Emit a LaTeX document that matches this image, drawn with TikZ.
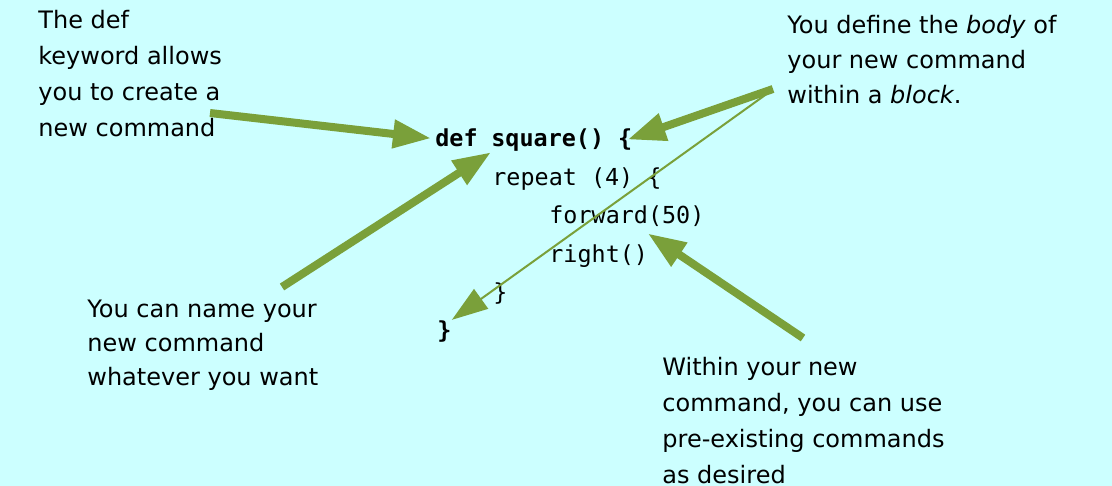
\documentclass[tikz,border=0pt]{standalone}
\usepackage{fontspec}
\setmainfont{DejaVu Sans}
\setmonofont{DejaVu Sans Mono}
\usetikzlibrary{arrows.meta,calc}
\definecolor{bgcyan}{RGB}{204,255,255}
\definecolor{arrgreen}{RGB}{122,160,58}
\tikzstyle{note}=[anchor=base west,inner sep=0pt,align=left,
                  font=\fontsize{12}{18}\selectfont]
\tikzstyle{code}=[anchor=base west,inner sep=0pt,
                  font=\ttfamily\fontsize{11.7}{14}\selectfont]
\tikzstyle{fatarrow}=[draw=arrgreen,line width=4pt,
                      -{Triangle[length=19pt,width=13.5pt]}]
\tikzstyle{thinarrow}=[draw=arrgreen,line width=1pt,
                       -{Triangle[length=18pt,width=12pt]}]
\begin{document}
\begin{tikzpicture}[x=0.5pt,y=-0.5pt]
    \fill[bgcyan] (0,0) rectangle (1112,486);
    \useasboundingbox (0,0) rectangle (1112,486);
    % notes (placed by the baseline of their last line)
    \node (n1) at (38,137) [note]{The def\\keyword allows\\you to create a\\new command};
    \node (n2) at (787,104) [note,font=\fontsize{12}{17.5}\selectfont]{You define the \textit{body} of\\your new command\\within a \textit{block}.};
    \node (n3) at (87,385) [note,font=\fontsize{12}{17}\selectfont]{You can name your\\new command\\whatever you want};
    \node (n4) at (662,483) [note]{Within your new\\command, you can use\\pre-existing commands\\as desired};
    % code
    \node (kw) at (435,147) [code]{\bfseries def};
    \node (sq) at (491,147) [code]{\bfseries square() \{};
    \node (l2) at (492,186) [code]{repeat (4) \{};
    \node (l3) at (549,224) [code]{forward(50)};
    \node (l4) at (549,262) [code]{right()};
    \node (l5) at (493,300) [code]{\}};
    \node (l6) at (437,338) [code]{\bfseries \}};
    % arrows
    \coordinate (a1) at (210,113);
    \coordinate (a2) at (773,89);
    \coordinate (a2t) at (768,93);
    \coordinate (a3) at (282,287);
    \coordinate (a4) at (803,338);
    \draw[fatarrow] (a1) -- ($(kw.west)+(-4,0)$);
    \draw[fatarrow] (a2) -- ($(sq.east)+(-5,-1)$);
    \draw[thinarrow] (a2t) -- (l6.north east);
    \draw[fatarrow] (a3) -- (sq.south west);
    \draw[fatarrow] (a4) -- ($(l3.south)+(21,6)$);
\end{tikzpicture}
\end{document}
